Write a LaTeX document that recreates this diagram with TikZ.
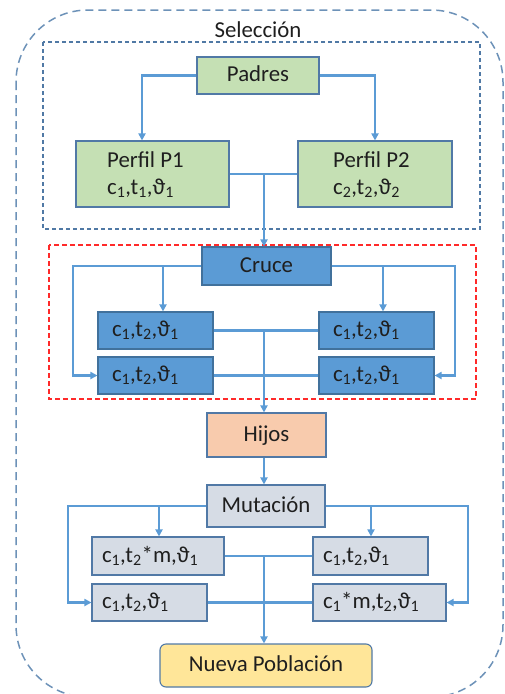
\documentclass[tikz,border=0pt]{standalone}
\usepackage{fontspec}
\setmainfont{Carlito}
\usetikzlibrary{arrows.meta}

\definecolor{grn}{HTML}{C5E0B4}
\definecolor{blu}{HTML}{5B9BD5}
\definecolor{gry}{HTML}{D6DCE5}
\definecolor{sal}{HTML}{F8CBAD}
\definecolor{yel}{HTML}{FFE699}
\definecolor{bd}{HTML}{5179A6}
\definecolor{bdb}{HTML}{41719C}
\definecolor{lnk}{HTML}{5B9BD5}
\definecolor{outerc}{HTML}{6D92B8}
\definecolor{innerc}{HTML}{5079A5}
\definecolor{redc}{HTML}{FF2A2A}
\definecolor{ink}{HTML}{1F1F1F}

% subscript digits
\newcommand\lo[1]{\textsubscript{#1}}

\tikzset{
  conn/.style={draw=lnk, line width=2.4pt},
  arr/.style={conn, -{Triangle[length=7pt,width=7pt]}},
  cell/.style={draw=bd, line width=1.1pt, text=ink, text height=16pt,
               text depth=4pt, inner xsep=0pt, align=left},
  txt/.style={inner sep=0pt, text=ink},
  outerbox/.style={draw=outerc, line width=1.5pt, dash pattern=on 8pt off 5pt,
                   rounded corners=72pt},
  innerbox/.style={draw=innerc, line width=1.3pt, dash pattern=on 4pt off 3pt},
  redbox/.style={draw=redc, line width=1.3pt, dash pattern=on 5pt off 3pt}
}

\begin{document}
\begin{tikzpicture}[x=1pt, y=-1pt, font=\fontsize{22.8}{28}\selectfont]
\useasboundingbox (0,0) rectangle (505,694);
\clip (0,0) rectangle (505,694);

% enclosing frames
\draw[outerbox] (16,10) rectangle (503,697);
\draw[innerbox] (43,42) rectangle (480,229);
\draw[redbox] (49,245) rectangle (476,399);
\node[txt, anchor=base] (sel) at (258,37) {Selección};

% parents
\node[cell, fill=grn, minimum width=122pt, minimum height=37pt] (padres) at (258,75.5) {Padres};
\node[cell, fill=grn, minimum width=153pt, minimum height=66pt] (p1) at (152.5,174) {};
\node[cell, fill=grn, minimum width=154pt, minimum height=66pt] (p2) at (375,174) {};
\node[txt, anchor=base west] (p1a) at (107,167) {Perfil P1};
\node[txt, anchor=base west] (p1b) at (107,194) {c\lo1,t\lo1,ϑ\lo1};
\node[txt, anchor=base west] (p2a) at (333,167) {Perfil P2};
\node[txt, anchor=base west] (p2b) at (333,194) {c\lo2,t\lo2,ϑ\lo2};

% crossover
\node[cell, fill=blu, draw=bdb, minimum width=129pt, minimum height=38pt] (cruce) at (266.5,266) {Cruce};
\node[cell, fill=blu, draw=bdb, minimum height=37pt, inner xsep=14pt, text width=87pt] (l1) at (155.5,330.5) {c\lo1,t\lo2,ϑ\lo1};
\node[cell, fill=blu, draw=bdb, minimum height=37pt, inner xsep=14pt, text width=87pt] (l2) at (155.5,375.5) {c\lo1,t\lo2,ϑ\lo1};
\node[cell, fill=blu, draw=bdb, minimum height=37pt, inner xsep=14pt, text width=87pt] (r1) at (376.5,330.5) {c\lo1,t\lo2,ϑ\lo1};
\node[cell, fill=blu, draw=bdb, minimum height=37pt, inner xsep=14pt, text width=87pt] (r2) at (376.5,375.5) {c\lo1,t\lo2,ϑ\lo1};

% offspring and mutation
\node[cell, fill=sal, minimum width=119pt, minimum height=44pt] (hijos) at (266.5,435) {Hijos};
\node[cell, fill=gry, minimum width=118pt, minimum height=42pt] (mut) at (266,506) {Mutación};
\node[cell, fill=gry, minimum height=38pt, inner xsep=10pt, text width=112pt] (ml1) at (158,556) {c\lo1,t\lo2*m,ϑ\lo1};
\node[cell, fill=gry, minimum height=37pt, inner xsep=10pt, text width=95pt] (ml2) at (149.5,602.5) {c\lo1,t\lo2,ϑ\lo1};
\node[cell, fill=gry, minimum height=38pt, inner xsep=10pt, text width=95pt] (mr1) at (370.5,556) {c\lo1,t\lo2,ϑ\lo1};
\node[cell, fill=gry, minimum height=37pt, inner xsep=10pt, text width=113pt] (mr2) at (379.5,602.5) {c\lo1*m,t\lo2,ϑ\lo1};
\node[cell, fill=yel, rounded corners=6pt, minimum width=212pt, minimum height=43pt] (nueva) at (266,665.5) {Nueva Población};

% junction points
\coordinate (m1) at (264,174);
\coordinate (cl) at (73,266);
\coordinate (cr) at (455,266);
\coordinate (bl) at (163,266);
\coordinate (br) at (383,266);
\coordinate (m2) at (264,330.5);
\coordinate (ul) at (68,506);
\coordinate (ur) at (468,506);
\coordinate (vl) at (159,506);
\coordinate (vr) at (371,506);
\coordinate (m3) at (264,556);

% connectors
\draw[arr] (padres.west) -| ([xshift=-10.5pt]p1.north);
\draw[arr] (padres.east) -| (p2.north);
\draw[conn] (p1.east) -- (p2.west);
\draw[arr] (m1) -- (m1 |- cruce.north);

\draw[arr] (cruce.west) -- (cl) |- (l2.west);
\draw[arr] (cruce.east) -- (cr) |- (r2.east);
\draw[arr] (bl) -- (bl |- l1.north);
\draw[arr] (br) -- (br |- r1.north);
\draw[conn] (l1.east) -- (r1.west);
\draw[conn] (l2.east) -- (r2.west);
\draw[arr] (m2) -- (m2 |- hijos.north);
\draw[arr] (m2 |- hijos.south) -- (m2 |- mut.north);

\draw[arr] (mut.west) -- (ul) |- (ml2.west);
\draw[arr] (mut.east) -- (ur) |- (mr2.east);
\draw[arr] (vl) -- (vl |- ml1.north);
\draw[arr] (vr) -- (vr |- mr1.north);
\draw[conn] (ml1.east) -- (mr1.west);
\draw[conn] (ml2.east) -- (mr2.west);
\draw[arr] (m3) -- (m3 |- nueva.north);
\end{tikzpicture}
\end{document}
